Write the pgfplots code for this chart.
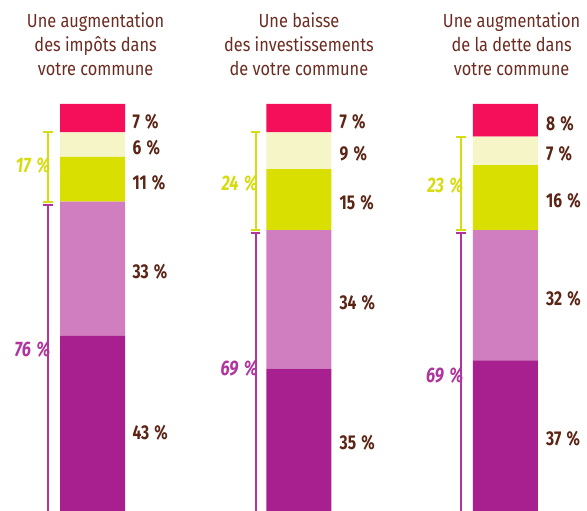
\documentclass[border=0pt]{standalone}
\usepackage{fontspec}
\setmainfont{Fira Sans}[FakeStretch=0.86]
\newfontfamily\valfam{Fira Sans}[FakeStretch=0.78]
\usepackage{pgfplots}
\pgfplotsset{compat=1.18}
\definecolor{cM}{HTML}{A8208F}
\definecolor{cP}{HTML}{D17EC0}
\definecolor{cY}{HTML}{D9DF00}
\definecolor{cL}{HTML}{F5F5C8}
\definecolor{cR}{HTML}{F50F5A}
\definecolor{cT}{HTML}{6B2C22}
\definecolor{cV}{HTML}{5C2415}
\definecolor{cBY}{HTML}{D6DC10}
\definecolor{cBM}{HTML}{B0359E}
\newcommand{\pc}{\hspace{0.26em}\%}
\newcommand{\titlefont}{\fontsize{19}{24}\selectfont}
\newcommand{\valfont}{\valfam\fontsize{20}{22}\selectfont\bfseries}
\newcommand{\brfont}{\valfam\fontsize{21}{22}\selectfont\bfseries\itshape}
\tikzset{val/.style={anchor=west, text=cV, font=\valfont, inner sep=0pt, yshift=-3pt},
         ttl/.style={anchor=base, text=cT, font=\titlefont}}
% bracket: #1 x of line, #2 low, #3 high, #4 colour, #5 label, #6 extra, #7 label y
\newcommand{\bracket}[7]{%
  \draw[#4, line width=2pt] (axis cs:#1,#2) -- (axis cs:#1,#3);
  \draw[#4, line width=2pt] (axis cs:#1-0.024,#3) -- (axis cs:#1+0.024,#3);
  #6
  \node[anchor=east, fill=white, inner xsep=0pt, inner ysep=0pt, text=#4, font=\brfont] at (axis cs:#1+0.012,#7) {#5};
}
\begin{document}
\begin{tikzpicture}
\begin{axis}[
  scale only axis, width=587pt, height=511pt,
  xmin=-0.448, xmax=2.395, ymin=0, ymax=125.55,
  hide axis, clip=false,
  ybar stacked, bar width=65pt,
]
\addplot[fill=cM, draw=none] coordinates {(0,43) (1,35) (2,37)};
\addplot[fill=cP, draw=none] coordinates {(0,33) (1,34) (2,32)};
\addplot[fill=cY, draw=none] coordinates {(0,11) (1,15) (2,16)};
\addplot[fill=cL, draw=none] coordinates {(0,6) (1,9) (2,7)};
\addplot[fill=cR, draw=none] coordinates {(0,7) (1,7) (2,8)};
% value labels
\node[val] at (axis cs:0.193,20) {43\pc};
\node[val] at (axis cs:0.193,59.5) {33\pc};
\node[val] at (axis cs:0.193,81.5) {11\pc};
\node[val] at (axis cs:0.193,90) {6\pc};
\node[val] at (axis cs:0.193,96.5) {7\pc};
\node[val] at (axis cs:1.196,17.5) {35\pc};
\node[val] at (axis cs:1.196,52) {34\pc};
\node[val] at (axis cs:1.196,76.5) {15\pc};
\node[val] at (axis cs:1.196,88.5) {9\pc};
\node[val] at (axis cs:1.196,96.5) {7\pc};
\node[val] at (axis cs:2.196,18.5) {37\pc};
\node[val] at (axis cs:2.196,53) {32\pc};
\node[val] at (axis cs:2.196,77) {16\pc};
\node[val] at (axis cs:2.196,88.5) {7\pc};
\node[val] at (axis cs:2.196,96) {8\pc};
% brackets
\bracket{-0.2155}{0}{75.2}{cBM}{76\pc}{}{39.6}
\bracket{-0.2155}{76}{93}{cBY}{17\pc}{\draw[cBY, line width=2pt] (axis cs:-0.2395,76) -- (axis cs:-0.1915,76);}{85}
\bracket{0.7895}{0}{68.2}{cBM}{69\pc}{}{35.1}
\bracket{0.7895}{69}{93}{cBY}{24\pc}{\draw[cBY, line width=2pt] (axis cs:0.7655,69) -- (axis cs:0.8135,69);}{80.6}
\bracket{1.7845}{0}{68.2}{cBM}{69\pc}{}{33.4}
\bracket{1.7845}{69}{92}{cBY}{23\pc}{\draw[cBY, line width=2pt] (axis cs:1.7605,69) -- (axis cs:1.8085,69);}{80.1}
% titles
\node[ttl] at (axis cs:0.015,118.9) {Une augmentation};
\node[ttl] at (axis cs:0.015,112.8) {des impôts dans};
\node[ttl] at (axis cs:0.015,107.1) {votre commune};
\node[ttl] at (axis cs:1,118.9) {Une baisse};
\node[ttl] at (axis cs:1,112.8) {des investissements};
\node[ttl] at (axis cs:1,107.1) {de votre commune};
\node[ttl] at (axis cs:2.03,118.9) {Une augmentation};
\node[ttl] at (axis cs:2.03,112.8) {de la dette dans};
\node[ttl] at (axis cs:2.03,107.1) {votre commune};
\end{axis}
\pgfresetboundingbox
\useasboundingbox (0,0) rectangle (587pt,511pt);
\end{tikzpicture}
\end{document}
